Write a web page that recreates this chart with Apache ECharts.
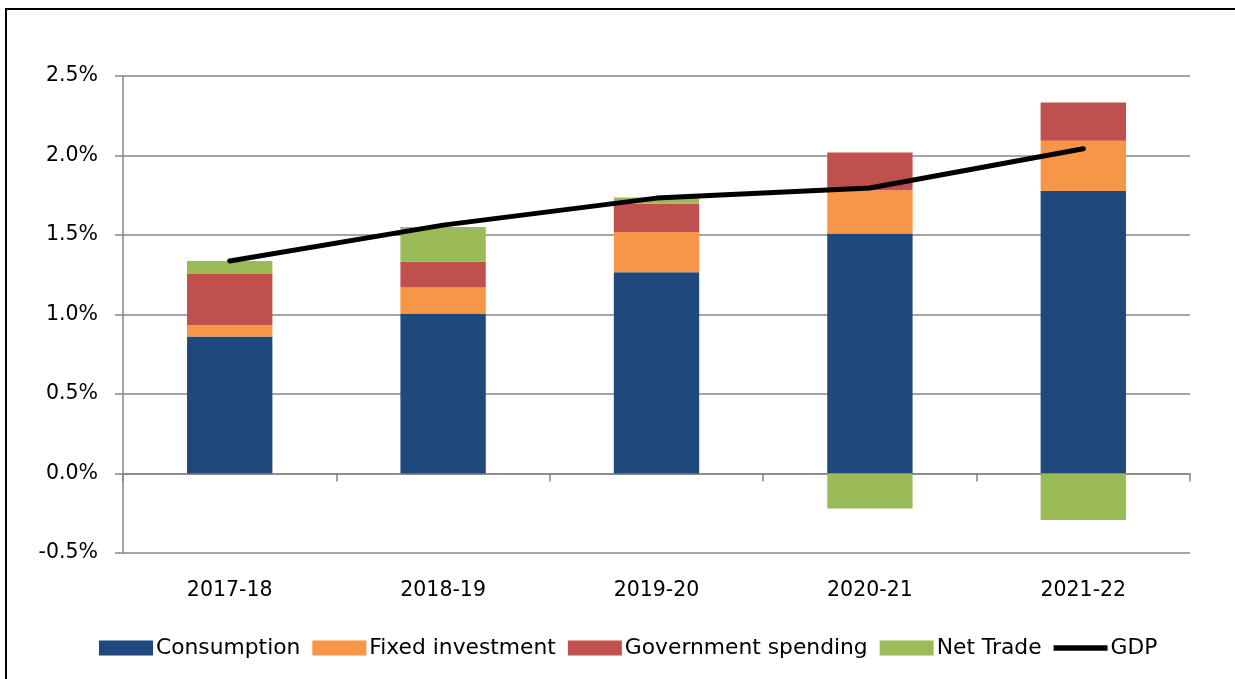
<!DOCTYPE html>
<html>
<head>
<meta charset="utf-8">
<script src="https://cdn.jsdelivr.net/npm/echarts@6/dist/echarts.min.js"></script>
<style>
html,body{margin:0;padding:0;background:#fff;}
#wrap{position:relative;width:1235px;height:679px;overflow:hidden;}
#chart{position:absolute;left:0;top:0;width:1235px;height:679px;}
#frame{position:absolute;left:5px;top:8px;width:1240px;height:700px;border-left:2.5px solid #000;border-top:2.5px solid #000;pointer-events:none;}
</style>
</head>
<body>
<div id="wrap"><div id="chart"></div><div id="frame"></div></div>
<script>
const categories = ['2017-18', '2018-19', '2019-20', '2020-21', '2021-22'];
const consumption = [0.862, 1.006, 1.266, 1.510, 1.777];
const fixedInvestment = [0.071, 0.164, 0.252, 0.272, 0.315];
const governmentSpending = [0.322, 0.161, 0.178, 0.237, 0.241];
const netTrade = [0.082, 0.219, 0.040, -0.220, -0.292];
const gdp = [1.337, 1.562, 1.732, 1.796, 2.042];
const yTicks = {min: -0.5, max: 2.5, interval: 0.5};

const FONT = '"DejaVu Sans", sans-serif';
const chart = echarts.init(document.getElementById('chart'), null, {renderer: 'canvas'});

function bar(name, data, color) {
  return {
    name: name, type: 'bar', stack: 'total', data: data,
    barWidth: '40%', xAxisIndex: 0,
    itemStyle: {color: color},
    emphasis: {disabled: true}
  };
}

chart.setOption({
  animation: false,
  backgroundColor: '#fff',
  grid: {left: 123, right: 45, top: 76, bottom: 126},
  legend: {
    left: 94, top: 632,
    itemWidth: 54, itemHeight: 15, itemGap: 12,
    textStyle: {fontFamily: FONT, fontSize: 21.8, color: '#000', padding: [0, 0, 0, -2]},
    data: [
      {name: 'Consumption', icon: 'rect'},
      {name: 'Fixed investment', icon: 'rect'},
      {name: 'Government spending', icon: 'rect'},
      {name: 'Net Trade', icon: 'rect'},
      {name: 'GDP', icon: 'path://M0,0 H100 V10 H0 Z'}
    ]
  },
  xAxis: [
    {
      type: 'category', data: categories,
      axisLine: {onZero: true, lineStyle: {color: '#868686', width: 1.5}},
      axisTick: {show: true, alignWithLabel: false, length: 8, lineStyle: {color: '#868686', width: 1.5}},
      axisLabel: {show: false},
      splitLine: {show: false}
    },
    {
      type: 'category', data: categories, position: 'bottom',
      axisLine: {show: false, onZero: false},
      axisTick: {show: false},
      axisLabel: {show: true, margin: 27, fontFamily: FONT, fontSize: 20.5, color: '#000'},
      splitLine: {show: false}
    }
  ],
  yAxis: {
    type: 'value', min: yTicks.min, max: yTicks.max, interval: yTicks.interval,
    axisLine: {show: true, lineStyle: {color: '#868686', width: 1.5}},
    axisTick: {show: true, length: 8, lineStyle: {color: '#868686', width: 1.5}},
    axisLabel: {margin: 25, fontFamily: FONT, fontSize: 20.5, color: '#000',
      formatter: v => v.toFixed(1) + '%'},
    splitLine: {show: true, lineStyle: {color: '#868686', width: 1.5}}
  },
  series: [
    bar('Consumption', consumption, '#1F497D'),
    bar('Fixed investment', fixedInvestment, '#F79646'),
    bar('Government spending', governmentSpending, '#C0504D'),
    bar('Net Trade', netTrade, '#9BBB59'),
    {
      name: 'GDP', type: 'line', data: gdp, xAxisIndex: 0,
      symbol: 'none', z: 5,
      lineStyle: {color: '#000', width: 5, cap: 'round', join: 'round'},
      itemStyle: {color: '#000'},
      emphasis: {disabled: true}
    }
  ]
});
</script>
</body>
</html>
